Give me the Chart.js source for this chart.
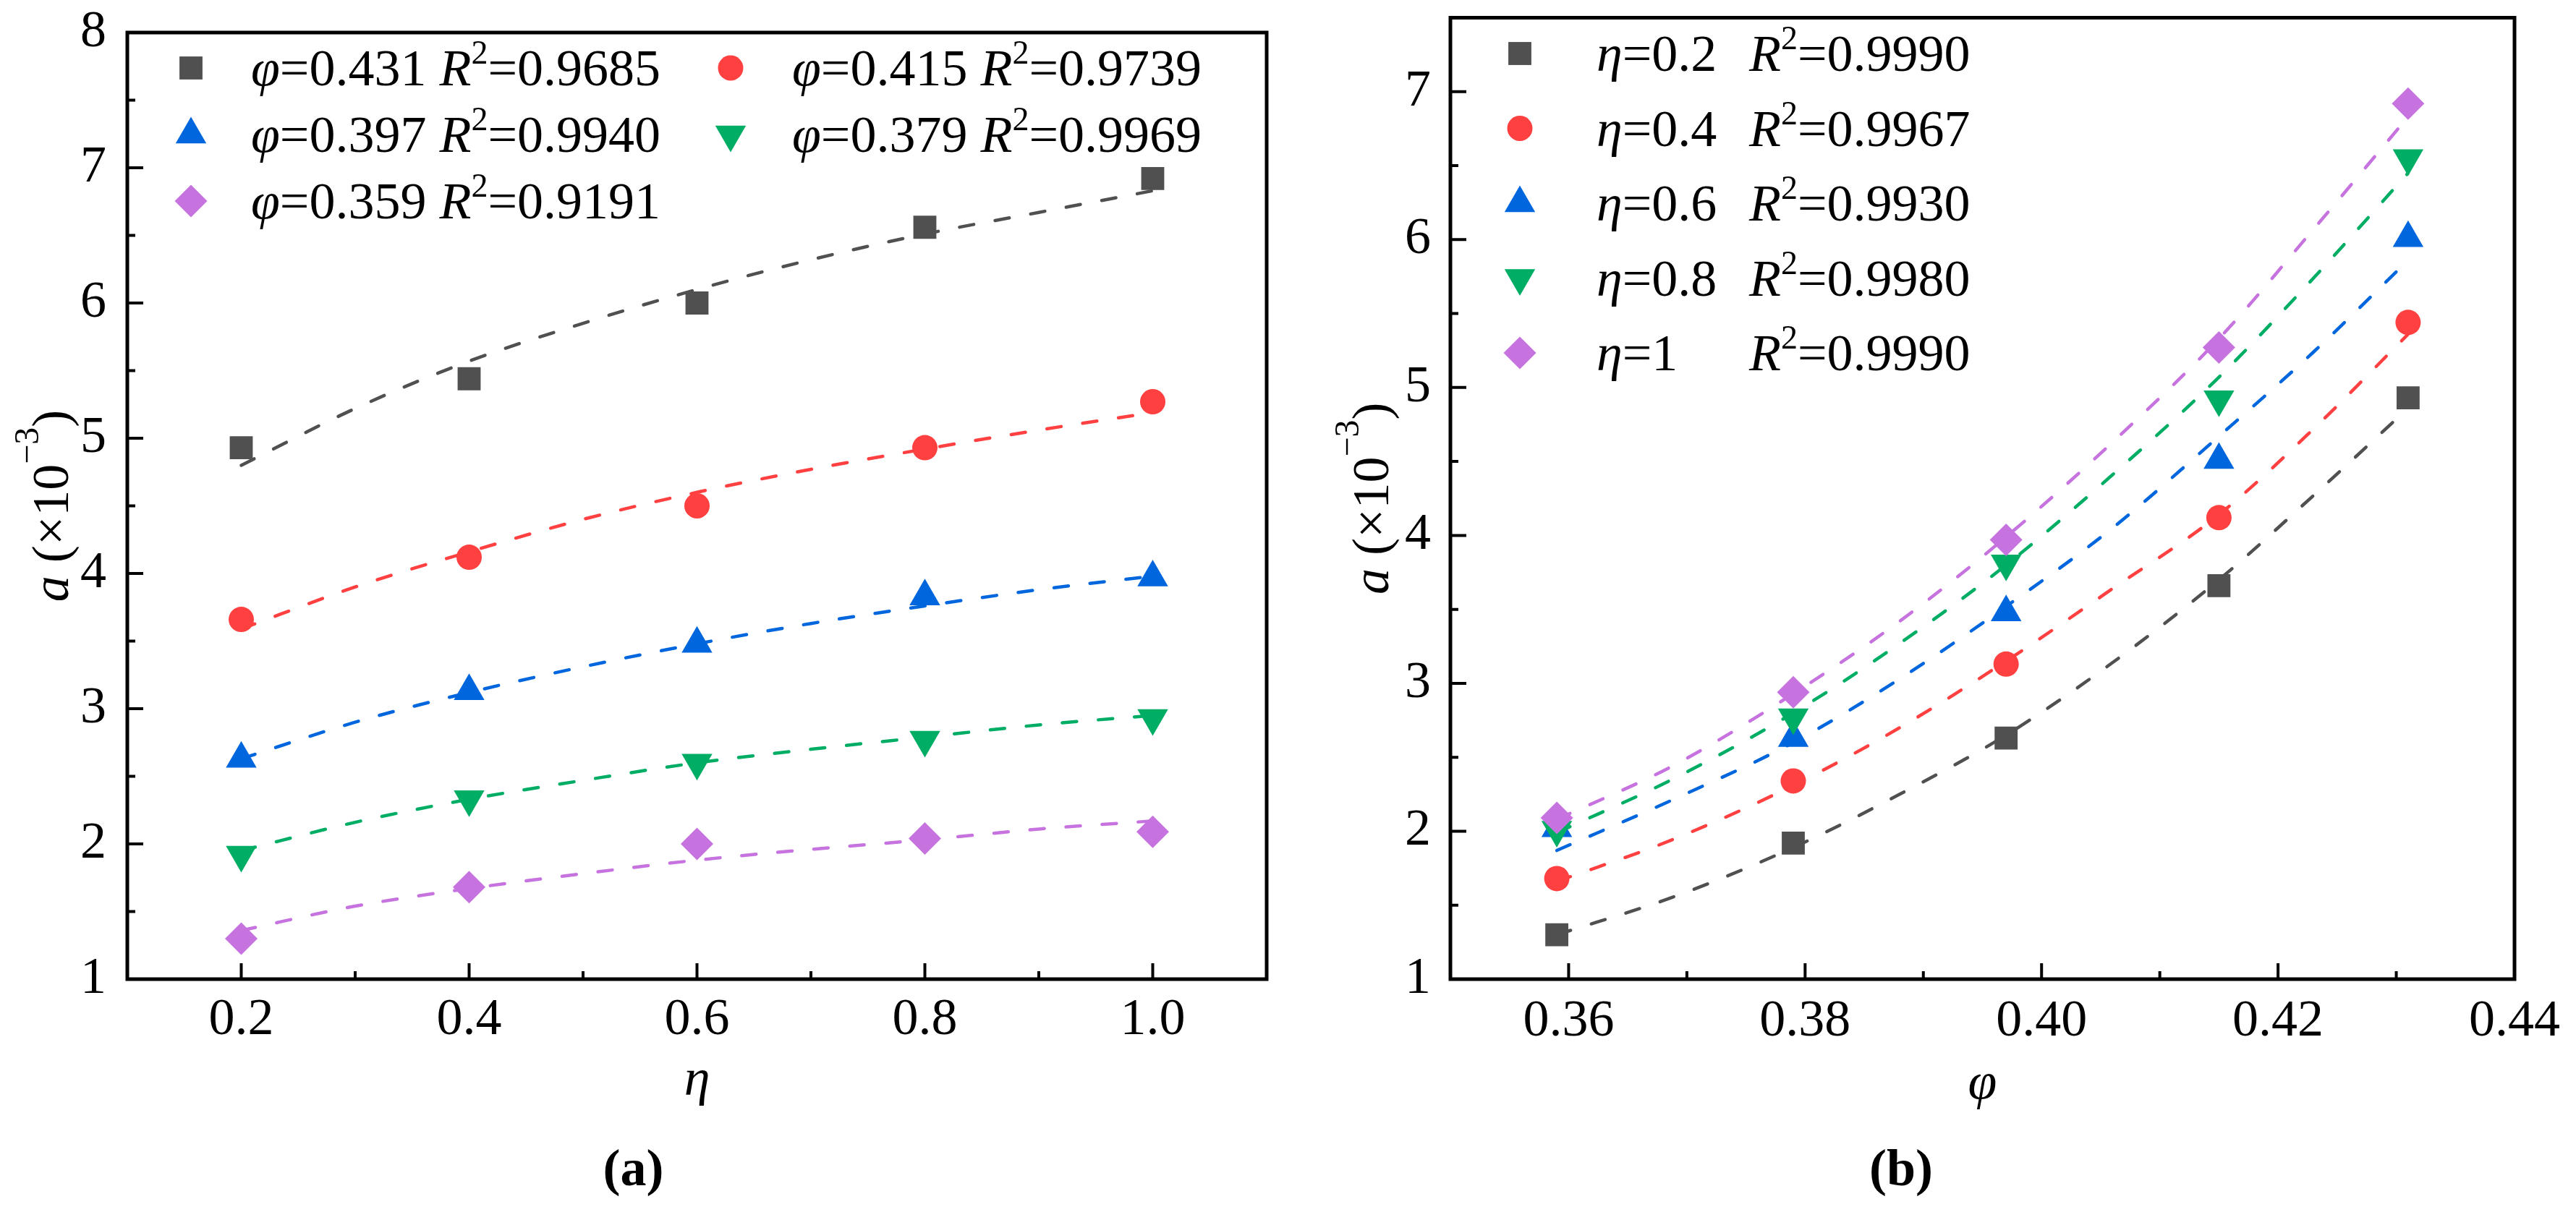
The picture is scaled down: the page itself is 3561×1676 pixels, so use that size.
<!DOCTYPE html>
<html><head><meta charset="utf-8">
<script src="https://cdn.jsdelivr.net/npm/chart.js@4.4.1/dist/chart.umd.min.js"></script>
<style>
html,body{margin:0;padding:0;background:#fff;overflow:hidden;}
#wa{position:absolute;left:0;top:0;width:1780px;height:1676px;}
#wb{position:absolute;left:1780px;top:0;width:1781px;height:1676px;}
#warm{position:absolute;left:-5000px;top:0;font-family:'Liberation Serif';font-size:72px;}
</style></head><body>
<div id="warm">0.9685 φη R <i>φη R a</i> <b>(a)</b> ×10−3</div>
<div id="wa"><canvas id="ca"></canvas></div>
<div id="wb"><canvas id="cb"></canvas></div>
<script>
// ---------- Panel (a): a vs eta, one series per phi ----------
const etaValues = [0.2, 0.4, 0.6, 0.8, 1.0];
const phiLabels = ['0.431', '0.415', '0.397', '0.379', '0.359'];
const r2Left = ['0.9685', '0.9739', '0.9940', '0.9969', '0.9191'];
const a_phi0431 = [4.93, 5.44, 6.00, 6.56, 6.92];
const a_phi0415 = [3.66, 4.12, 4.50, 4.93, 5.27];
const a_phi0397 = [2.63, 3.13, 3.48, 3.83, 3.97];
const a_phi0379 = [1.92, 2.33, 2.60, 2.77, 2.93];
const a_phi0359 = [1.30, 1.68, 2.00, 2.04, 2.09];
// dashed fit curves
const fitEta = [0.2, 0.3, 0.4, 0.5, 0.6, 0.7, 0.8, 0.9, 1.0];
const fit_phi0431 = [4.80, 5.22, 5.57, 5.85, 6.10, 6.32, 6.51, 6.67, 6.83];
const fit_phi0415 = [3.59, 3.90, 4.16, 4.40, 4.60, 4.77, 4.92, 5.06, 5.19];
const fit_phi0397 = [2.63, 2.90, 3.12, 3.31, 3.48, 3.63, 3.76, 3.88, 3.98];
const fit_phi0379 = [1.95, 2.16, 2.33, 2.47, 2.60, 2.70, 2.79, 2.88, 2.95];
const fit_phi0359 = [1.36, 1.54, 1.67, 1.78, 1.88, 1.96, 2.03, 2.11, 2.17];
const leftXTicks = [0.2, 0.4, 0.6, 0.8, 1.0];
const leftYTicks = [1, 2, 3, 4, 5, 6, 7, 8];

// ---------- Panel (b): a vs phi, one series per eta ----------
const phiValues = [0.359, 0.379, 0.397, 0.415, 0.431];
const etaLabels = ['0.2', '0.4', '0.6', '0.8', '1'];
const r2Right = ['0.9990', '0.9967', '0.9930', '0.9980', '0.9990'];
const a_eta02 = [1.30, 1.92, 2.63, 3.66, 4.93];
const a_eta04 = [1.68, 2.34, 3.13, 4.12, 5.44];
const a_eta06 = [2.02, 2.63, 3.48, 4.51, 6.01];
const a_eta08 = [2.01, 2.77, 3.81, 4.92, 6.55];
const a_eta10 = [2.09, 2.94, 3.97, 5.27, 6.92];
const fitPhi = [0.359, 0.369, 0.379, 0.388, 0.397, 0.406, 0.415, 0.423, 0.431];
const fit_eta02 = [1.30, 1.56, 1.89, 2.25, 2.65, 3.14, 3.70, 4.27, 4.86];
const fit_eta04 = [1.66, 1.95, 2.31, 2.70, 3.15, 3.64, 4.14, 4.72, 5.36];
const fit_eta06 = [1.87, 2.22, 2.60, 3.03, 3.52, 4.05, 4.67, 5.24, 5.86];
const fit_eta08 = [1.99, 2.36, 2.80, 3.27, 3.80, 4.41, 5.07, 5.74, 6.45];
const fit_eta10 = [2.08, 2.45, 2.93, 3.42, 3.99, 4.63, 5.33, 6.07, 6.83];
const rightXTicks = [0.36, 0.38, 0.40, 0.42, 0.44];
const rightYTicks = [1, 2, 3, 4, 5, 6, 7];

// ---------- styles ----------
const FONT = '"Liberation Serif", "Times New Roman", serif';
const colors = ['#505050', '#ff4040', '#0066dd', '#00ad65', '#c673df'];
const pStyles = ['rect', 'circle', 'triangle', 'triangle', 'rectRot'];
const pRot = [0, 0, 0, 180, 0];
const pRad = [22.5, 17.5, 24.5, 24.5, 22.5];

function mids(arr) { const m = []; for (let i = 0; i < arr.length - 1; i++) m.push((arr[i] + arr[i + 1]) / 2); return m; }

function pointDs(label, xs, ys, i) {
  return { label, data: xs.map((x, k) => ({ x, y: ys[k] })), pointStyle: pStyles[i], rotation: pRot[i],
    pointRadius: pRad[i], pointHoverRadius: pRad[i], pointBackgroundColor: colors[i], pointBorderWidth: 0,
    borderColor: colors[i], backgroundColor: colors[i], showLine: false, order: -i };
}
function fitDs(label, xs, ys, i) {
  return { label, data: xs.map((x, k) => ({ x, y: ys[k] })), showLine: true, pointRadius: 0, pointHoverRadius: 0,
    borderColor: colors[i], backgroundColor: colors[i], borderWidth: 4.5, borderDash: [20, 30], borderCapStyle: 'round',
    cubicInterpolationMode: 'monotone', order: 10 };
}

function drawMarker(ctx, i, x, y) {
  ctx.fillStyle = colors[i];
  if (Chart.helpers && Chart.helpers.drawPoint) {
    Chart.helpers.drawPoint(ctx, { pointStyle: pStyles[i], rotation: pRot[i], radius: pRad[i], borderWidth: 0 }, x, y);
  }
}
function segFont(s) {
  return s.sup ? (s.size || 46) + 'px ' + FONT : (s.i ? 'italic ' : '') + '72px ' + FONT;
}
function richWidth(ctx, segs) {
  let w = 0; segs.forEach(s => { ctx.font = segFont(s); w += ctx.measureText(s.t).width; }); return w;
}
function drawRich(ctx, segs, x, baseline) {
  segs.forEach(s => {
    ctx.font = segFont(s);
    ctx.fillText(s.t, x, s.sup ? baseline - (s.rise || 30) : baseline);
    x += ctx.measureText(s.t).width;
  });
  return x;
}

const framePlugin = {
  id: 'frameTicksLegend',
  afterDraw(chart, args, opts) {
    const { ctx, chartArea: a, scales: { x, y } } = chart;
    ctx.save();
    // inward ticks
    ctx.strokeStyle = '#000'; ctx.lineWidth = 4; ctx.lineCap = 'butt';
    ctx.beginPath();
    opts.xMajor.forEach(v => { const p = x.getPixelForValue(v); ctx.moveTo(p, a.bottom); ctx.lineTo(p, a.bottom - 22); });
    mids(opts.xMajor).forEach(v => { const p = x.getPixelForValue(v); ctx.moveTo(p, a.bottom); ctx.lineTo(p, a.bottom - 11); });
    opts.yMajor.forEach(v => { const p = y.getPixelForValue(v); ctx.moveTo(a.left, p); ctx.lineTo(a.left + 22, p); });
    mids(opts.yMajor).forEach(v => { const p = y.getPixelForValue(v); ctx.moveTo(a.left, p); ctx.lineTo(a.left + 11, p); });
    ctx.stroke();
    ctx.lineWidth = 5;
    ctx.strokeRect(a.left, a.top, a.right - a.left, a.bottom - a.top);
    ctx.fillStyle = '#000';
    ctx.textAlign = 'left'; ctx.textBaseline = 'alphabetic';
    // y-axis title (italic a, superscript exponent)
    const yt = opts.yTitle;
    const w = richWidth(ctx, yt.segs);
    ctx.save();
    ctx.translate(yt.cx, (a.top + a.bottom) / 2);
    ctx.rotate(-Math.PI / 2);
    drawRich(ctx, yt.segs, -w / 2, 24);
    ctx.restore();
    // legend
    const L = opts.legend;
    L.items.forEach((it, k) => {
      const col = L.cols[k % L.perRow], row = Math.floor(k / L.perRow);
      const base = L.base0 + row * L.rowStep;
      drawMarker(ctx, k, col.marker, base - 24);
      ctx.fillStyle = '#000';
      drawRich(ctx, it.a, col.text, base);
      if (it.b) drawRich(ctx, it.b, col.text2, base);
    });
    ctx.restore();
  }
};

const yTitleSegs = [{ t: 'a', i: 1 }, { t: ' (×10' }, { t: '−3', sup: 1, size: 48, rise: 41 }, { t: ')' }];

function scales(o) {
  return {
    x: { type: 'linear', min: o.xMin, max: o.xMax,
      afterBuildTicks: s => { s.ticks = o.xTicks.map(v => ({ value: v })); },
      afterFit: s => { s.height = o.xH; s.paddingLeft = 0; s.paddingRight = 0; },
      grid: { display: false, drawTicks: false }, border: { display: false },
      ticks: { color: '#000', font: { family: FONT, size: 72, lineHeight: 1 }, padding: o.xPad, autoSkip: false, maxRotation: 0,
        callback: v => Number(v).toFixed(o.xDec) },
      title: { display: true, text: o.xTitle, color: '#000', font: { family: FONT, size: 72, style: 'italic', lineHeight: 1 },
        padding: { top: o.xtPad, bottom: o.xtPad } } },
    y: { type: 'linear', min: o.yMin, max: o.yMax,
      afterBuildTicks: s => { s.ticks = o.yTicks.map(v => ({ value: v })); },
      afterFit: s => { s.width = o.yW; s.paddingTop = 0; s.paddingBottom = 0; },
      grid: { display: false, drawTicks: false }, border: { display: false },
      ticks: { color: '#000', font: { family: FONT, size: 72, lineHeight: 1 }, padding: o.yPad, autoSkip: false,
        callback: v => String(v) },
      title: { display: false, text: 'a (×10⁻³)' } }
  };
}

function baseOptions(o, panel, legend) {
  return {
    responsive: true, maintainAspectRatio: false, animation: false,
    layout: { padding: { top: o.top, right: o.right, left: 0, bottom: 0 } },
    scales: scales(o),
    plugins: {
      legend: { display: false }, tooltip: { enabled: false },
      title: { display: true, position: 'bottom', text: panel, color: '#000',
        font: { family: FONT, size: 72, weight: 'bold', lineHeight: 1.2 }, padding: { top: 10, bottom: 12.8 } },
      frameTicksLegend: { xMajor: o.xTicks, yMajor: o.yTicks, legend, yTitle: { cx: o.ytX, segs: yTitleSegs } }
    }
  };
}

function build() {
  // ---- chart (a)
  const leftSeries = [a_phi0431, a_phi0415, a_phi0397, a_phi0379, a_phi0359];
  const leftFits = [fit_phi0431, fit_phi0415, fit_phi0397, fit_phi0379, fit_phi0359];
  const dsA = [];
  leftSeries.forEach((s, i) => dsA.push(pointDs('φ=' + phiLabels[i] + ' R²=' + r2Left[i], etaValues, s, i)));
  leftFits.forEach((s, i) => dsA.push(fitDs('fit φ=' + phiLabels[i], fitEta, s, i)));
  const legendA = {
    perRow: 2, base0: 118, rowStep: 92,
    cols: [{ marker: 264, text: 347 }, { marker: 1010, text: 1095 }],
    items: phiLabels.map((p, i) => ({ a: [{ t: 'φ', i: 1 }, { t: '=' + p + ' ' }, { t: 'R', i: 1 }, { t: '2', sup: 1 }, { t: '=' + r2Left[i] }] }))
  };
  const optA = { xMin: 0.1, xMax: 1.1, yMin: 1, yMax: 8, xTicks: leftXTicks, yTicks: leftYTicks, xDec: 1,
    xH: 212.8, yW: 176, xPad: 21, yPad: 29, xtPad: 36, ytX: 70, top: 45, right: 29, xTitle: 'η' };
  new Chart(document.getElementById('ca'), { type: 'scatter', data: { datasets: dsA },
    options: baseOptions(optA, '(a)', legendA), plugins: [framePlugin] });

  // ---- chart (b)
  const rightSeries = [a_eta02, a_eta04, a_eta06, a_eta08, a_eta10];
  const rightFits = [fit_eta02, fit_eta04, fit_eta06, fit_eta08, fit_eta10];
  const dsB = [];
  rightSeries.forEach((s, i) => dsB.push(pointDs('η=' + etaLabels[i] + ' R²=' + r2Right[i], phiValues, s, i)));
  rightFits.forEach((s, i) => dsB.push(fitDs('fit η=' + etaLabels[i], fitPhi, s, i)));
  const legendB = {
    perRow: 1, base0: 98, rowStep: 103.5,
    cols: [{ marker: 321, text: 427, text2: 638 }],
    items: etaLabels.map((e, i) => ({ a: [{ t: 'η', i: 1 }, { t: '=' + e }], b: [{ t: 'R', i: 1 }, { t: '2', sup: 1 }, { t: '=' + r2Right[i] }] }))
  };
  const optB = { xMin: 0.35, xMax: 0.44, yMin: 1, yMax: 7.5, xTicks: rightXTicks, yTicks: rightYTicks, xDec: 2,
    xH: 212.8, yW: 225, xPad: 23, yPad: 27, xtPad: 31, ytX: 115, top: 2, right: 85, xTitle: 'φ' };
  new Chart(document.getElementById('cb'), { type: 'scatter', data: { datasets: dsB },
    options: baseOptions(optB, '(b)', legendB), plugins: [framePlugin] });
}
if (document.fonts && document.fonts.ready) {
  Promise.all([document.fonts.load('72px "Liberation Serif"'), document.fonts.load('italic 72px "Liberation Serif"'),
    document.fonts.load('bold 72px "Liberation Serif"')]).catch(() => {}).then(build);
} else { build(); }
</script>
</body></html>
